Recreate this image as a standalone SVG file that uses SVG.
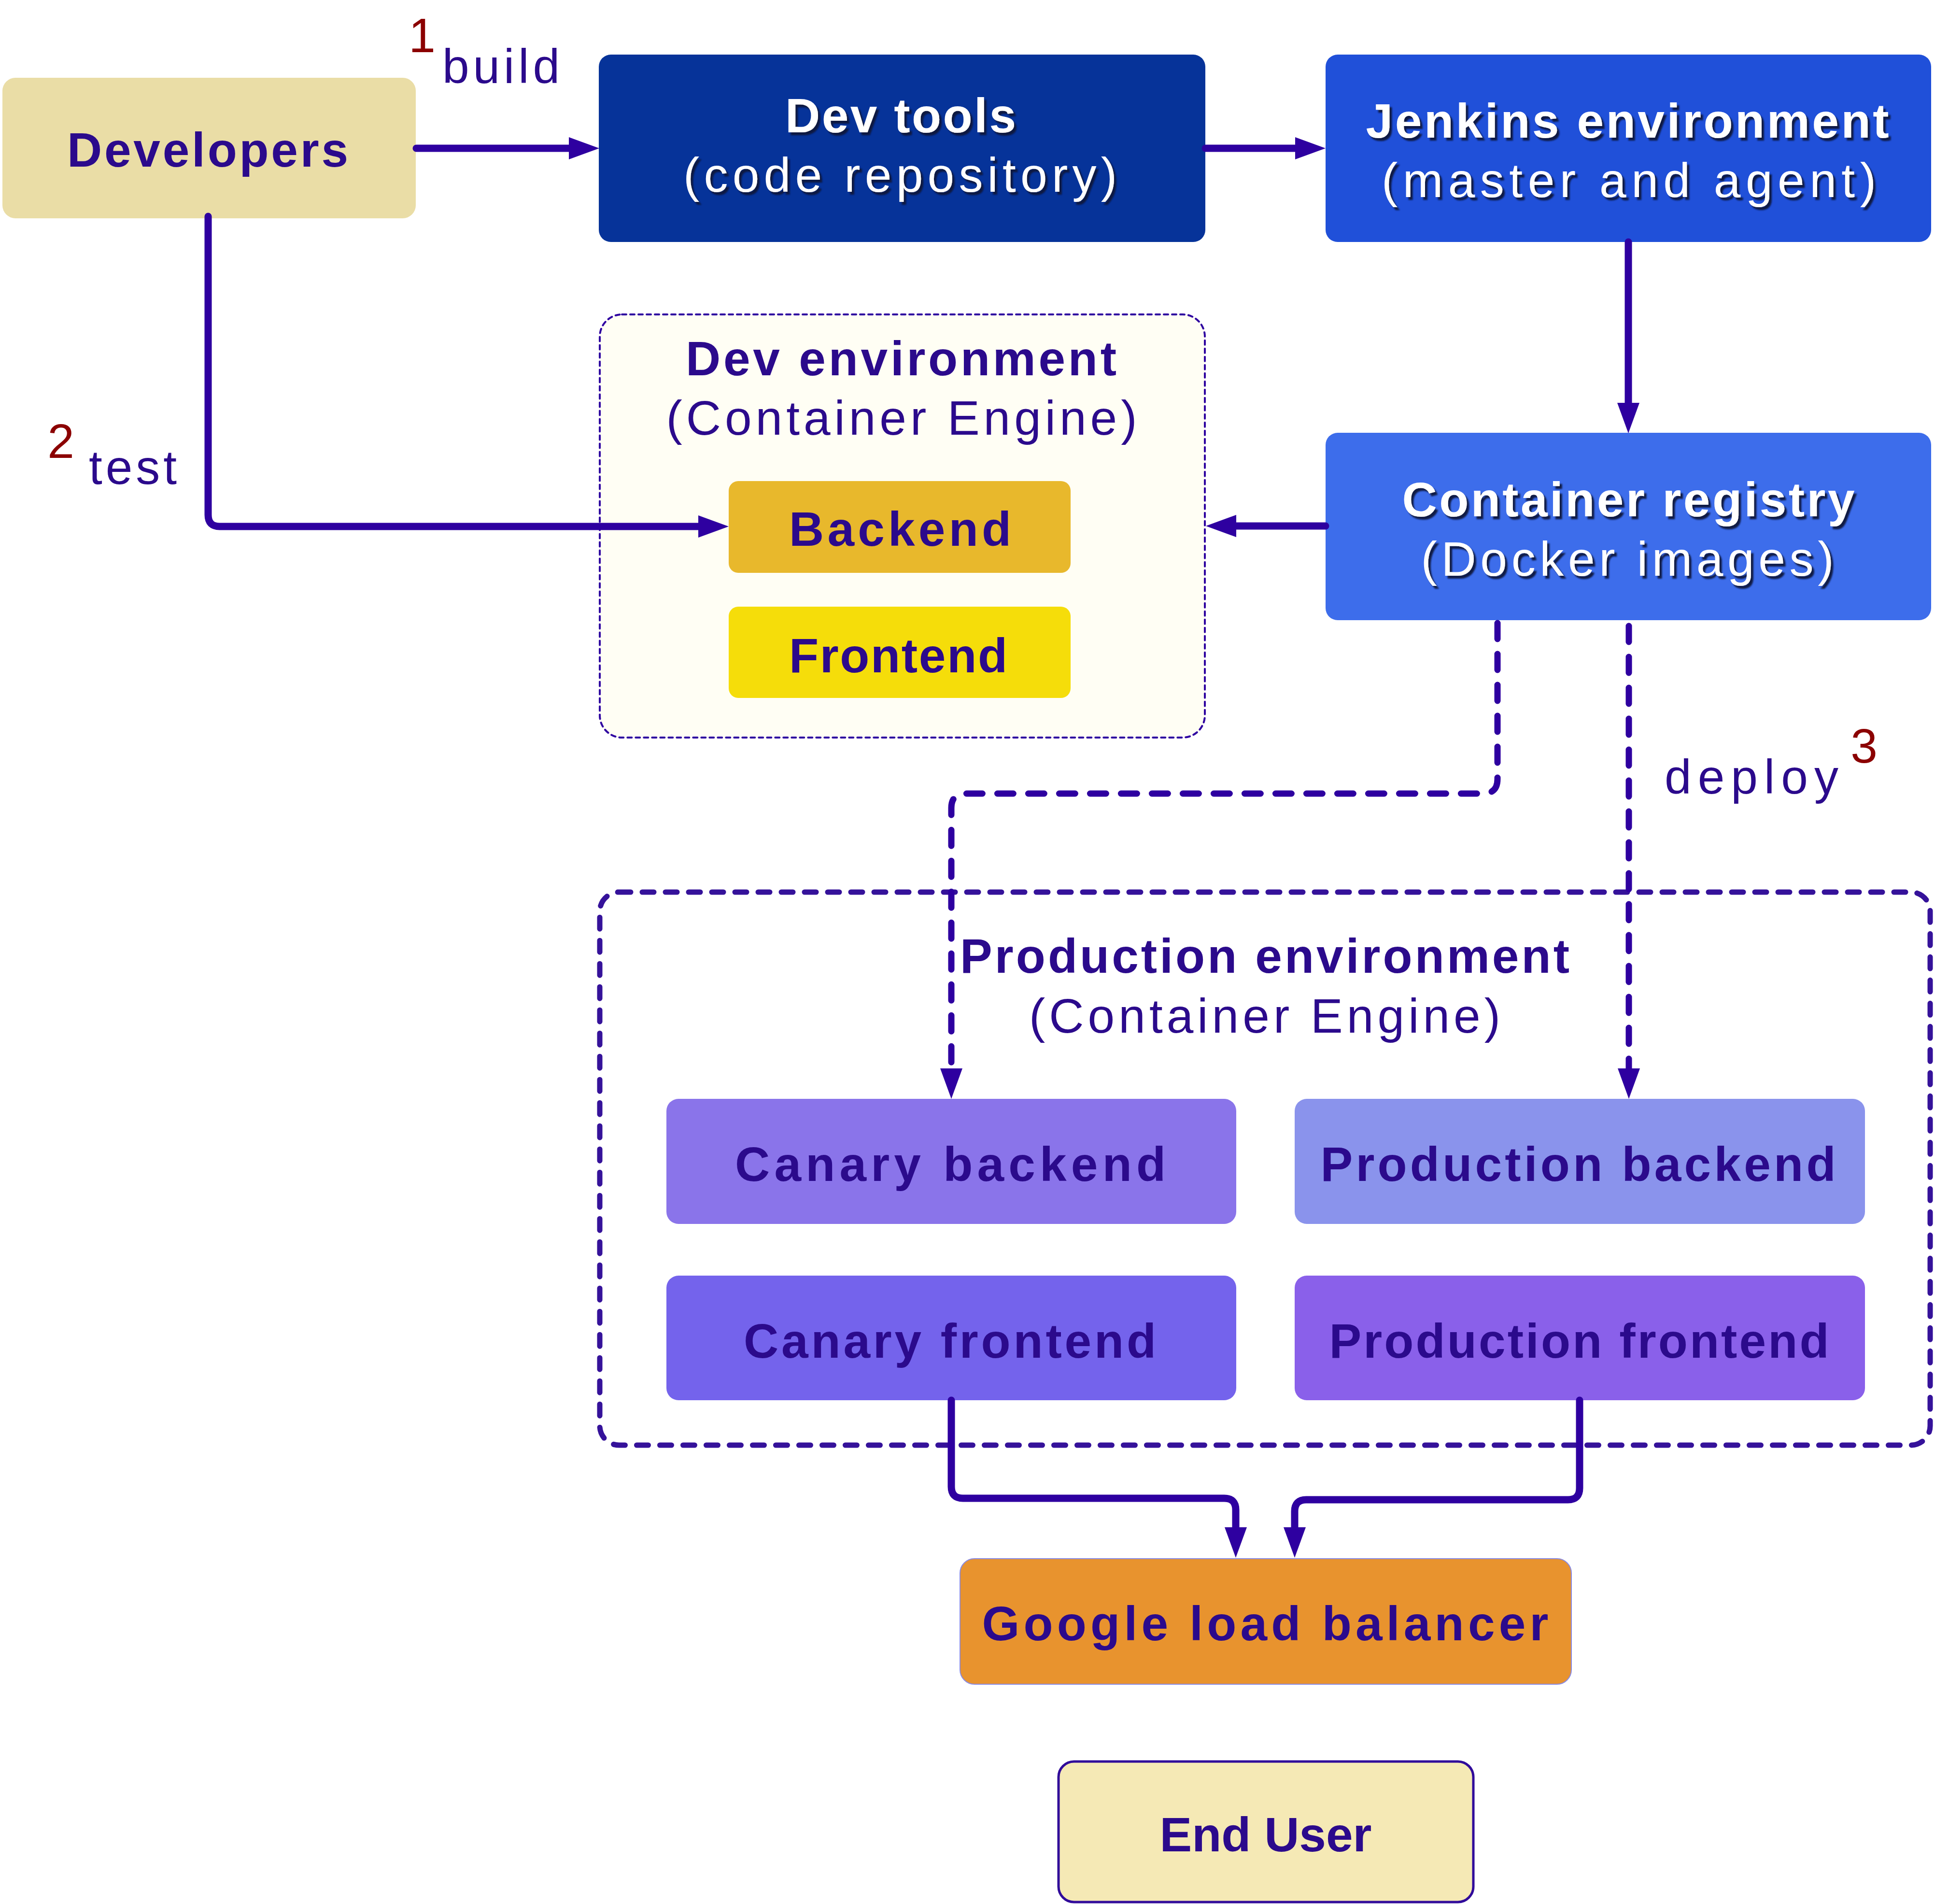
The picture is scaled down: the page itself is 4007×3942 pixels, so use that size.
<svg xmlns="http://www.w3.org/2000/svg" width="4007" height="3942" viewBox="0 0 4007 3942">
<style>
.b{font-family:"Liberation Sans",Arial,sans-serif;font-weight:bold;font-size:100px;fill:#2B0A8C}
.r{font-family:"Liberation Sans",Arial,sans-serif;font-size:100px;fill:#2B0A8C}
.w{fill:#ffffff;filter:url(#sh)}
.red{fill:#8B0000}
.m{text-anchor:middle}
.conn{fill:none;stroke:#2E00A0;stroke-width:15;stroke-linecap:round;stroke-linejoin:round}
.dash{stroke-width:13;stroke-dasharray:33 31}
</style>
<defs>
<filter id="sh" x="-10%" y="-30%" width="130%" height="170%">
<feDropShadow dx="5" dy="6" stdDeviation="1.5" flood-color="#08123c" flood-opacity="0.95"/>
</filter>
<marker id="ah" markerUnits="userSpaceOnUse" markerWidth="64" markerHeight="48" refX="0" refY="23" orient="auto" overflow="visible">
<path d="M0,0 L63,23 L0,46 Z" fill="#2E00A0"/>
</marker>
</defs>
<rect width="4007" height="3942" fill="#ffffff"/>

<g id="dev-env">
<rect x="1242" y="651" width="1253" height="876" rx="46" fill="#FFFEF4" stroke="#2E00A0" stroke-width="4" stroke-dasharray="9 8" stroke-linecap="round"/>
<text class="b m" x="1866" y="777" textLength="892" lengthAdjust="spacing">Dev environment</text>
<text class="r m" x="1867" y="900" textLength="975" lengthAdjust="spacing">(Container Engine)</text>
</g>

<g id="prod-env">
<rect x="1242" y="1847" width="2755" height="1145" rx="40" fill="none" stroke="#35129A" stroke-width="11" stroke-dasharray="24 24" stroke-linecap="round"/>
<text class="b m" x="2619" y="2014" textLength="1262" lengthAdjust="spacing">Production environment</text>
<text class="r m" x="2619" y="2138" textLength="976" lengthAdjust="spacing">(Container Engine)</text>
</g>

<g id="developers">
<rect x="5" y="161" width="856" height="291" rx="27" fill="#EADDA6"/>
<text class="b m" x="430" y="345" textLength="582" lengthAdjust="spacing">Developers</text>
</g>

<g id="dev-tools">
<rect x="1240" y="113" width="1256" height="388" rx="25" fill="#063399"/>
<text class="b m w" x="1865" y="274" textLength="478" lengthAdjust="spacing">Dev tools</text>
<text class="r m w" x="1864" y="397" textLength="898" lengthAdjust="spacing">(code repository)</text>
</g>

<g id="jenkins">
<rect x="2745" y="113" width="1254" height="388" rx="25" fill="#2050D9"/>
<text class="b m w" x="3370" y="285" textLength="1083" lengthAdjust="spacing">Jenkins environment</text>
<text class="r m w" x="3373" y="408" textLength="1024" lengthAdjust="spacing">(master and agent)</text>
</g>

<g id="registry">
<rect x="2745" y="896" width="1254" height="388" rx="25" fill="#3D6DEB"/>
<text class="b m w" x="3372" y="1069" textLength="937" lengthAdjust="spacing">Container registry</text>
<text class="r m w" x="3370" y="1192" textLength="855" lengthAdjust="spacing">(Docker images)</text>
</g>

<g id="backend">
<rect x="1509" y="996" width="708" height="190" rx="20" fill="#E8B82C"/>
<text class="b m" x="1864" y="1130" textLength="460" lengthAdjust="spacing">Backend</text>
</g>

<g id="frontend">
<rect x="1509" y="1256" width="708" height="189" rx="20" fill="#F5DD0A"/>
<text class="b m" x="1860" y="1392" textLength="452" lengthAdjust="spacing">Frontend</text>
</g>

<g id="canary-backend">
<rect x="1380" y="2275" width="1180" height="259" rx="25" fill="#8A74EA"/>
<text class="b m" x="1968" y="2445" textLength="892" lengthAdjust="spacing">Canary backend</text>
</g>

<g id="production-backend">
<rect x="2681" y="2275" width="1181" height="259" rx="25" fill="#8A93EC"/>
<text class="b m" x="3268" y="2445" textLength="1067" lengthAdjust="spacing">Production backend</text>
</g>

<g id="canary-frontend">
<rect x="1380" y="2641" width="1180" height="258" rx="25" fill="#7463EC"/>
<text class="b m" x="1967" y="2811" textLength="854" lengthAdjust="spacing">Canary frontend</text>
</g>

<g id="production-frontend">
<rect x="2681" y="2641" width="1181" height="258" rx="25" fill="#8A60EA"/>
<text class="b m" x="3270" y="2811" textLength="1035" lengthAdjust="spacing">Production frontend</text>
</g>

<g id="load-balancer">
<rect x="1988" y="3227" width="1266" height="260" rx="30" fill="#E8932E" stroke="#8A8AE0" stroke-width="2"/>
<text class="b m" x="2620" y="3396" textLength="1173" lengthAdjust="spacing">Google load balancer</text>
</g>

<g id="end-user">
<rect x="2192" y="3647" width="859" height="291" rx="32" fill="#F5E9B5" stroke="#300A9A" stroke-width="5"/>
<text class="b m" x="2621" y="3833" textLength="439" lengthAdjust="spacing">End User</text>
</g>

<g id="connectors">
<path class="conn" d="M862,307 H1178" marker-end="url(#ah)"/>
<path class="conn" d="M2496,307 H2682" marker-end="url(#ah)"/>
<path class="conn" d="M3372,501 V834" marker-end="url(#ah)"/>
<path class="conn" d="M431,448 V1066 Q431,1090 455,1090 H1446" marker-end="url(#ah)"/>
<path class="conn" d="M2745,1089 H2560" marker-end="url(#ah)"/>
<path class="conn dash" d="M3101,1290 V1613 Q3101,1643 3071,1643 H2000 Q1970,1643 1970,1673 V2212" marker-end="url(#ah)"/>
<path class="conn dash" d="M3373,1296 V2212" marker-end="url(#ah)"/>
<path class="conn" d="M1970,2899 V3078 Q1970,3102 1994,3102 H2535 Q2559,3102 2559,3126 V3162" marker-end="url(#ah)"/>
<path class="conn" d="M3271,2899 V3081 Q3271,3105 3247,3105 H2705 Q2681,3105 2681,3129 V3162" marker-end="url(#ah)"/>
</g>

<g id="labels">
<text class="r red m" x="874" y="108">1</text>
<text class="r" x="916" y="172" textLength="243" lengthAdjust="spacing">build</text>
<text class="r red m" x="126" y="948">2</text>
<text class="r" x="184" y="1002" textLength="182" lengthAdjust="spacing">test</text>
<text class="r" x="3447" y="1643" textLength="360" lengthAdjust="spacing">deploy</text>
<text class="r red m" x="3860" y="1579">3</text>
</g>
</svg>
